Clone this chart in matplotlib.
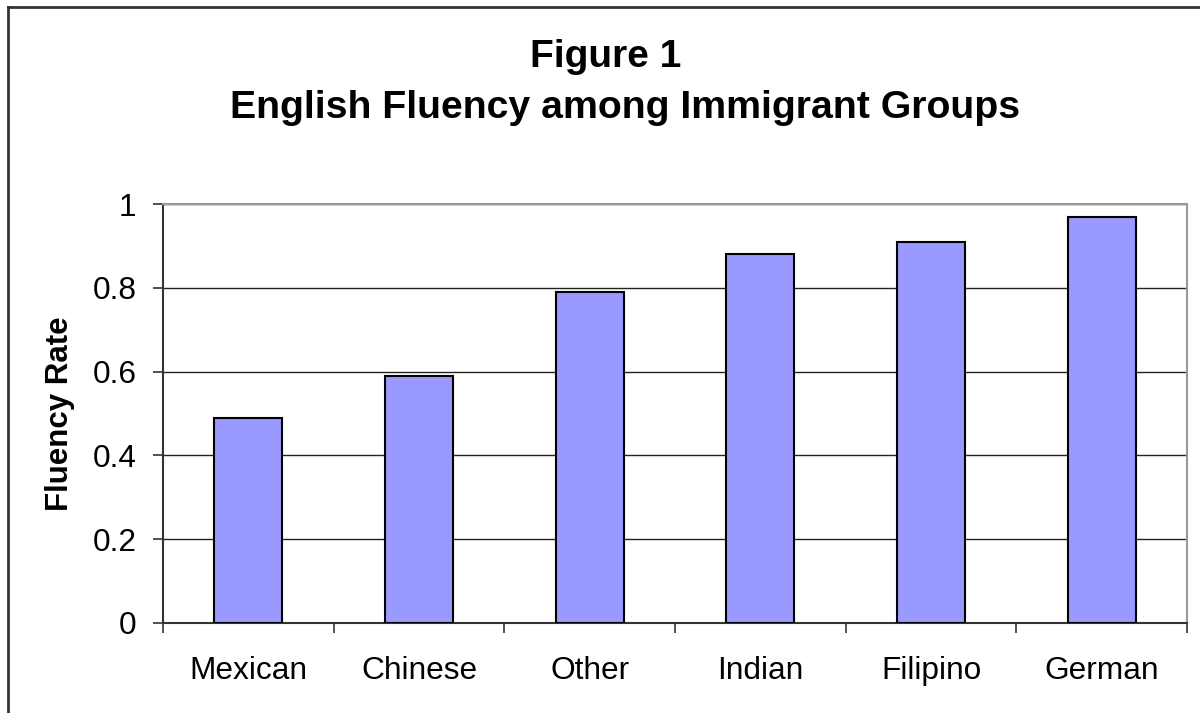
import numpy as np
import matplotlib.pyplot as plt
from matplotlib.lines import Line2D

groups = ["Mexican", "Chinese", "Other", "Indian", "Filipino", "German"]
fluency = [0.49, 0.59, 0.79, 0.88, 0.91, 0.97]
yticks = [0, 0.2, 0.4, 0.6, 0.8, 1]
ytick_labels = ["0", "0.2", "0.4", "0.6", "0.8", "1"]

plt.rcParams['font.family'] = ['Liberation Sans', 'DejaVu Sans']

fig = plt.figure(figsize=(12, 7.13), dpi=100)
ax = fig.add_axes([163/1200, 1 - 623/713, (1187-163)/1200, (623-204)/713])

x = np.arange(len(groups))
ax.bar(x, fluency, width=0.4, color="#9999FF", edgecolor="black", linewidth=1.5, zorder=3)

ax.set_xlim(-0.5, len(groups) - 0.5)
ax.set_ylim(0, 1)
ax.set_yticks(yticks)
ax.set_yticklabels(ytick_labels)
ax.yaxis.grid(True, color="#222222", linewidth=1.0, zorder=0)
ax.set_axisbelow(True)

ax.set_xticks(x)
ax.set_xticklabels(groups)
ax.set_xticks(np.arange(-0.5, len(groups)), minor=True)
ax.tick_params(axis="x", which="major", length=0, pad=24, labelsize=22.8)
ax.tick_params(axis="x", which="minor", length=7, width=1.3, color="#444444", direction="out")
ax.tick_params(axis="y", length=7, width=1.3, color="#444444", pad=12, labelsize=22.8)

for s in ["left", "bottom"]:
    ax.spines[s].set_color("#333333")
    ax.spines[s].set_linewidth(1.5)
for s in ["top", "right"]:
    ax.spines[s].set_color("#999999")
    ax.spines[s].set_linewidth(1.5)

ax.set_ylabel("Fluency Rate", fontsize=22.5, fontweight="bold", labelpad=13)

fig.text(606/1200, 1 - 57/713, "Figure 1", ha="center", va="center", fontsize=28, fontweight="bold")
fig.text(625/1200, 1 - 108/713, "English Fluency among Immigrant Groups", ha="center", va="center",
         fontsize=28.3, fontweight="bold")

# outer chart border (left and top edges visible)
fig.add_artist(Line2D([8/1200, 8/1200], [0, 1 - 7/713], transform=fig.transFigure, color="#333333", linewidth=2))
fig.add_artist(Line2D([8/1200, 1], [1 - 7/713, 1 - 7/713], transform=fig.transFigure, color="#333333", linewidth=2))

fig.savefig("out.png", dpi=100)
